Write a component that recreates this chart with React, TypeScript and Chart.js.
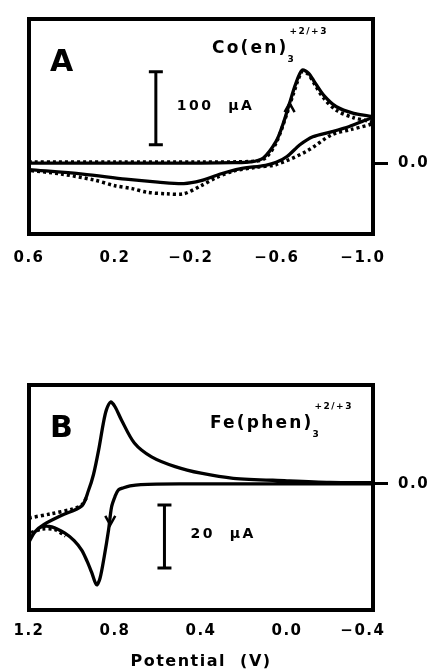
import React, { useEffect, useRef } from "react";
import { Chart, registerables } from "chart.js";
Chart.register(...registerables);

const FONT = '"DejaVu Sans", sans-serif';

// ---------- Panel A : Co(en)3 +2/+3 ----------
const aTicks = [0.6, 0.2, -0.2, -0.6, -1.0];
const aSolidE = [0.6, 0.4, 0.2, 0.0, -0.2, -0.35, -0.43, -0.49, -0.55, -0.58, -0.61, -0.64, -0.67, -0.7, -0.73, -0.77, -0.83, -0.91, -1.0,
  -0.95, -0.89, -0.81, -0.72, -0.66, -0.6, -0.55, -0.5, -0.38, -0.29, -0.2, -0.12, 0.0, 0.15, 0.35, 0.6];
const aSolidI = [0, 0, 0, 0, 0, 0.5, 1.5, 7, 30, 52, 80, 108, 127, 123, 110, 93, 77, 68, 63,
  57, 50, 43, 36, 25, 9, 1, -3, -8, -15, -24, -28, -26, -22, -15, -9];
const aDotE = [0.6, 0.2, -0.2, -0.45, -0.5, -0.55, -0.6, -0.63, -0.67, -0.7, -0.73, -0.77, -0.83, -0.91, -1.0,
  -0.9, -0.81, -0.69, -0.55, -0.45, -0.35, -0.27, -0.2, -0.12, -0.04, 0.05, 0.12, 0.2, 0.3, 0.45, 0.6];
const aDotI = [1.5, 1.5, 1.5, 2.5, 7, 28, 68, 95, 125, 121, 107, 89, 72, 62, 55,
  46, 39, 16, -2, -6, -11, -20, -31, -42, -42, -40, -35, -31, -23, -15, -10];

// ---------- Panel B : Fe(phen)3 +2/+3 ----------
const bTicks = [1.2, 0.8, 0.4, 0.0, -0.4];
const bSolidE = [-0.4, 0.0, 0.25, 0.5, 0.68, 0.73, 0.76, 0.784, 0.8, 0.816, 0.83, 0.85, 0.87, 0.886, 0.909, 0.93, 0.955, 0.99, 1.033, 1.094, 1.14, 1.177, 1.2,
  1.17, 1.13, 1.05, 0.955, 0.923, 0.9, 0.876, 0.855, 0.84, 0.82, 0.8, 0.77, 0.71, 0.63, 0.52, 0.4, 0.25, 0.0, -0.2, -0.4];
const bSolidI = [0, 0, 0, 0, -0.2, -0.6, -1.2, -1.9, -4, -7.3, -14.6, -23, -30, -32, -28, -24.5, -21, -18, -15.6, -13.6, -13.6, -15.6, -18.4,
  -15, -12.8, -10, -7, -2, 3, 10.8, 19, 23.5, 26, 24.5, 20.3, 13, 8.6, 5.5, 3.4, 1.8, 1.0, 0.5, 0.4];
const bDotUpE = [1.2, 1.1, 1.0, 0.955, 0.93];
const bDotUpI = [-10.8, -9.5, -8, -6.7, -4];
const bDotLowE = [1.19, 1.14, 1.08, 1.03];
const bDotLowI = [-15.5, -14.3, -14.5, -16.5];

function toXY(E: number[], I: number[]) {
  return E.map((e, k) => ({ x: e, y: I[k] }));
}

function fmtTick(v: number) {
  if (Math.abs(v) < 1e-9) return "0.0";
  return v < 0 ? "\u2212" + Math.abs(v).toFixed(1) + "   " : v.toFixed(1);
}

type Spec = {
  top: number; height: number; padTop: number; xAxisH: number; tickPad: number; titlePad: number;
  xMin: number; xMax: number; yMin: number; yMax: number; ticks: number[];
  solid: { x: number; y: number }[]; dotted: { x: number; y: number }[][];
  letter: string; letterDy: number;
  name: string; nameDx: number; nameDy: number;
  bar: { e: number; i0: number; i1: number; label: string; dx: number };
  arrow: { e: number; i: number; dir: number };
  title?: string;
};

const specA: Spec = {
  top: 0, height: 330, padTop: 13, xAxisH: 96, tickPad: 15, titlePad: 0,
  xMin: -1.0, xMax: 0.6, yMin: -97, yMax: 197, ticks: aTicks,
  solid: toXY(aSolidE, aSolidI), dotted: [toXY(aDotE, aDotI)],
  letter: "A", letterDy: 52,
  name: "Co(en)", nameDx: 183, nameDy: 34,
  bar: { e: 0.01, i0: 25, i1: 125, label: "100  µA", dx: 21 },
  arrow: { e: -0.612, i: 82, dir: -1 },
};

const specB: Spec = {
  top: 330, height: 341, padTop: 55, xAxisH: 61, tickPad: 12, titlePad: 0,
  xMin: -0.4, xMax: 1.2, yMin: -40, yMax: 31.4, ticks: bTicks,
  solid: toXY(bSolidE, bSolidI), dotted: [toXY(bDotUpE, bDotUpI), toXY(bDotLowE, bDotLowI)],
  letter: "B", letterDy: 52,
  name: "Fe(phen)", nameDx: 181, nameDy: 43,
  bar: { e: 0.57, i0: -6.7, i1: -26.7, label: "20  µA", dx: 26 },
  arrow: { e: 0.822, i: -13, dir: 1 },
  title: "Potential  (V)",
};

function makeChart(canvas: HTMLCanvasElement, spec: Spec) {
  const decor = {
    id: "decor",
    beforeDraw(chart: any) {
      chart.ctx.letterSpacing = "1.5px";
    },
    afterDraw(chart: any) {
      const ctx = chart.ctx as CanvasRenderingContext2D;
      const ca = chart.chartArea;
      const xs = chart.scales.x;
      const ys = chart.scales.y;
      ctx.save();
      ctx.strokeStyle = "#000";
      ctx.fillStyle = "#000";
      ctx.lineWidth = 4;
      ctx.strokeRect(ca.left, ca.top, ca.right - ca.left, ca.bottom - ca.top);
      // panel letter
      (ctx as any).letterSpacing = "0px";
      ctx.textAlign = "left";
      ctx.textBaseline = "alphabetic";
      ctx.font = `bold 30px ${FONT}`;
      ctx.fillText(spec.letter, ca.left + 21, ca.top + spec.letterDy);
      // compound name with sub/superscripts
      (ctx as any).letterSpacing = "2.2px";
      ctx.font = `bold 17px ${FONT}`;
      const nx = ca.left + spec.nameDx;
      const ny = ca.top + spec.nameDy;
      ctx.fillText(spec.name, nx, ny);
      const w = ctx.measureText(spec.name).width;
      (ctx as any).letterSpacing = "1.5px";
      ctx.font = `bold 9px ${FONT}`;
      ctx.fillText("3", nx + w - 1, ny + 9);
      ctx.fillText("+2/+3", nx + w + 1, ny - 19);
      // scale bar
      const bx = xs.getPixelForValue(spec.bar.e);
      const by0 = ys.getPixelForValue(spec.bar.i0);
      const by1 = ys.getPixelForValue(spec.bar.i1);
      ctx.lineWidth = 3;
      ctx.beginPath();
      ctx.moveTo(bx, by0); ctx.lineTo(bx, by1);
      ctx.moveTo(bx - 7, by0); ctx.lineTo(bx + 7, by0);
      ctx.moveTo(bx - 7, by1); ctx.lineTo(bx + 7, by1);
      ctx.stroke();
      (ctx as any).letterSpacing = "2.5px";
      ctx.font = `bold 14px ${FONT}`;
      ctx.textBaseline = "middle";
      ctx.fillText(spec.bar.label, bx + spec.bar.dx, (by0 + by1) / 2 - 2);
      // scan direction arrow
      const ax = xs.getPixelForValue(spec.arrow.e);
      const ay = ys.getPixelForValue(spec.arrow.i);
      const d = spec.arrow.dir;
      ctx.lineWidth = 2.5;
      ctx.beginPath();
      ctx.moveTo(ax - 5, ay - d * 9);
      ctx.lineTo(ax, ay);
      ctx.lineTo(ax + 5, ay - d * 9);
      ctx.stroke();
      ctx.restore();
    },
  };

  const tickFont = { family: FONT, size: 15, weight: "bold" as const };

  return new Chart(canvas, {
    type: "line",
    data: {
      datasets: [
        { data: spec.solid, borderColor: "#000", borderWidth: 3.3, pointRadius: 0, tension: 0.3, fill: false },
        ...spec.dotted.map((d) => ({
          data: d, borderColor: "#000", borderWidth: 3.5, borderDash: [3, 3], pointRadius: 0, tension: 0.3, fill: false,
        })),
      ],
    },
    options: {
      responsive: false,
      animation: false,
      events: [],
      layout: { padding: { left: 29, top: spec.padTop, right: 0, bottom: 0 } },
      plugins: { legend: { display: false }, tooltip: { enabled: false } },
      scales: {
        x: {
          type: "linear",
          reverse: true,
          min: spec.xMin,
          max: spec.xMax,
          afterBuildTicks: (s: any) => { s.ticks = spec.ticks.map((v) => ({ value: v })); },
          afterFit: (s: any) => { s.height = spec.xAxisH; },
          grid: { display: false, drawTicks: false, tickLength: 0 },
          border: { display: false },
          ticks: { font: tickFont, color: "#000", padding: spec.tickPad, maxRotation: 0, autoSkip: false, callback: (v: any) => fmtTick(Number(v)) },
          title: spec.title
            ? { display: true, text: spec.title, color: "#000", font: { family: FONT, size: 16, weight: "bold" }, padding: { top: 0, bottom: spec.titlePad } }
            : { display: false },
        },
        y: {
          type: "linear",
          position: "right",
          min: spec.yMin,
          max: spec.yMax,
          afterBuildTicks: (s: any) => { s.ticks = [{ value: 0 }]; },
          afterFit: (s: any) => { s.width = 68; },
          grid: { drawOnChartArea: false, drawTicks: true, tickLength: 15, color: "#000", lineWidth: 3 },
          border: { display: false },
          ticks: { font: tickFont, color: "#000", padding: 10, callback: () => "0.0" },
        },
      },
    } as any,
    plugins: [decor],
  });
}

function Panel({ spec }: { spec: Spec }) {
  const ref = useRef<HTMLCanvasElement>(null);
  useEffect(() => {
    if (!ref.current) return;
    const c = makeChart(ref.current, spec);
    return () => c.destroy();
  }, [spec]);
  return (
    <canvas
      ref={ref}
      width={441}
      height={spec.height}
      style={{ position: "absolute", left: 0, top: spec.top, width: 441, height: spec.height }}
    />
  );
}

export default function App() {
  return (
    <div style={{ position: "absolute", left: 0, top: 0, width: 441, height: 671, background: "#fff" }}>
      <Panel spec={specA} />
      <Panel spec={specB} />
    </div>
  );
}
